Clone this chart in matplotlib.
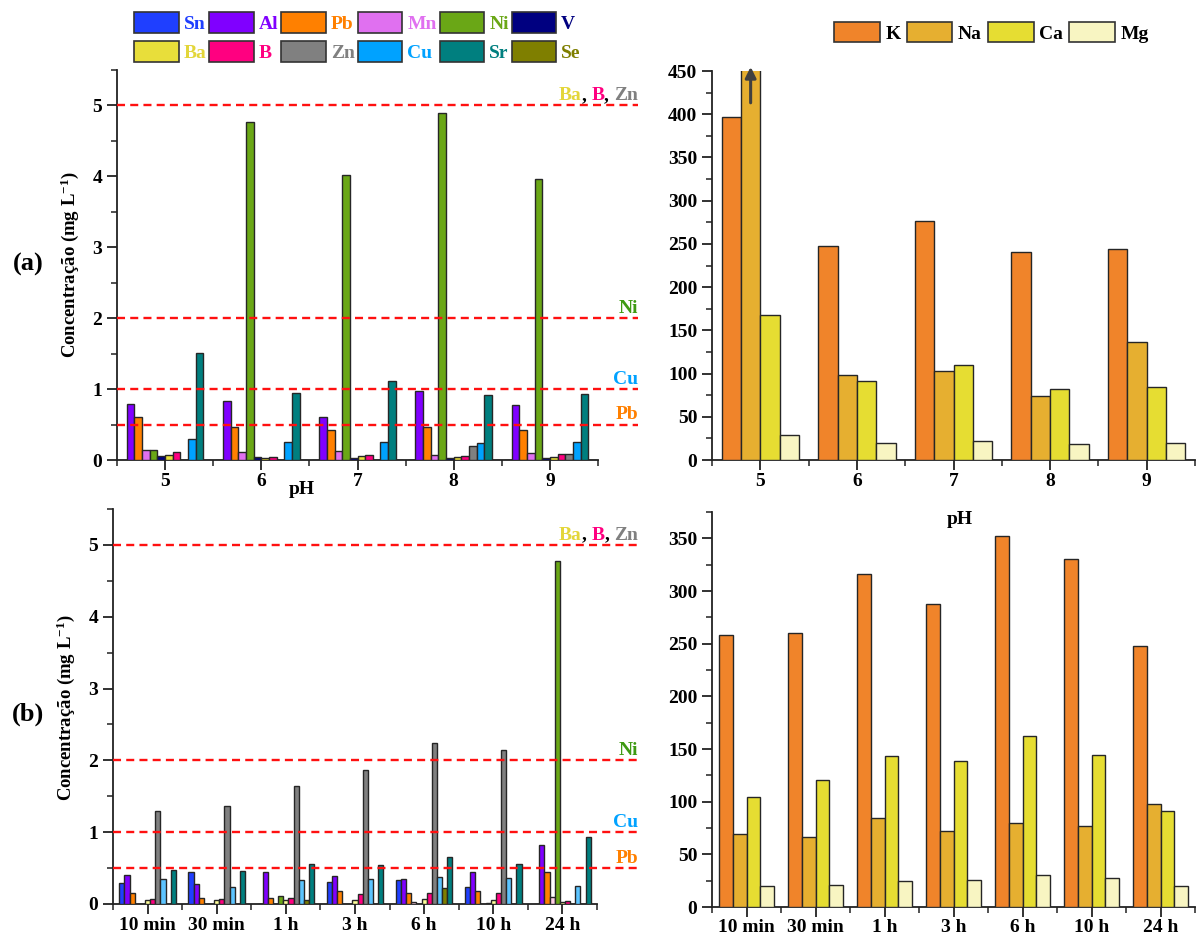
import numpy as np
import matplotlib
matplotlib.use("Agg")
import matplotlib.pyplot as plt
from matplotlib.patches import Patch
from matplotlib.ticker import MultipleLocator, FixedLocator
from matplotlib.offsetbox import TextArea, HPacker, AnnotationBbox

plt.rcParams['font.family'] = 'Liberation Serif'
plt.rcParams['font.weight'] = 'bold'
plt.rcParams['mathtext.fontset'] = 'custom'
plt.rcParams['mathtext.rm'] = 'Liberation Serif:bold'
plt.rcParams['mathtext.it'] = 'Liberation Serif:bold'
plt.rcParams['mathtext.bf'] = 'Liberation Serif:bold'

# ---------------- data ----------------
ph_labels = ['5', '6', '7', '8', '9']
time_labels = ['10 min', '30 min', '1 h', '3 h', '6 h', '10 h', '24 h']

# trace elements vs pH (mg/L)
sn_ph = [0, 0, 0, 0, 0]
al_ph = [0.79, 0.83, 0.61, 0.98, 0.77]
pb_ph = [0.60, 0.46, 0.42, 0.47, 0.42]
mn_ph = [0.14, 0.11, 0.12, 0.07, 0.10]
ni_ph = [0.14, 4.77, 4.02, 4.89, 3.96]
v_ph = [0.05, 0.04, 0.03, 0.03, 0.03]
ba_ph = [0.07, 0.03, 0.05, 0.04, 0.04]
b_ph = [0.11, 0.04, 0.07, 0.06, 0.08]
zn_ph = [0, 0, 0, 0.20, 0.08]
cu_ph = [0.29, 0.26, 0.26, 0.24, 0.25]
sr_ph = [1.51, 0.95, 1.11, 0.91, 0.93]
se_ph = [0, 0, 0, 0, 0]

# trace elements vs contact time (mg/L)
sn_t = [0.29, 0.44, 0, 0.31, 0.33, 0.24, 0]
al_t = [0.40, 0.28, 0.44, 0.39, 0.35, 0.45, 0.82]
pb_t = [0.15, 0.08, 0.08, 0.18, 0.15, 0.18, 0.45]
mn_t = [0, 0, 0, 0, 0.03, 0, 0.10]
ni_t = [0, 0, 0.11, 0, 0, 0.01, 4.77]
ba_t = [0.05, 0.05, 0.05, 0.055, 0.07, 0.055, 0.03]
b_t = [0.07, 0.07, 0.08, 0.14, 0.16, 0.15, 0.04]
zn_t = [1.30, 1.36, 1.65, 1.87, 2.24, 2.15, 0]
cu_t = [0.35, 0.24, 0.33, 0.35, 0.37, 0.36, 0.25]
se_t = [0, 0, 0.06, 0, 0.22, 0, 0]
sr_t = [0.47, 0.46, 0.56, 0.55, 0.65, 0.56, 0.93]

# major cations vs pH (mg/L); Na at pH 5 is off scale
k_ph = [397, 248, 277, 241, 244]
na_ph = [480, 98, 103, 74, 136]
ca_ph = [168, 91, 110, 82, 85]
mg_ph = [29, 19.5, 22, 19, 20]

# major cations vs contact time (mg/L)
k_t = [258, 260, 316, 288, 352, 330, 248]
na_t = [69.5, 66, 84.5, 72, 80, 77, 98]
ca_t = [104, 120.5, 143, 138.5, 162, 144, 91]
mg_t = [19.6, 21, 24.5, 26, 30, 28, 19.5]

# legal limits (mg/L)
limit_values = [0.5, 1, 2, 5]

# ---------------- colours ----------------
col = {'Sn': '#1F3FFF', 'Al': '#8000FF', 'Pb': '#FF8000', 'Mn': '#E070F0',
       'Ni': '#6AA716', 'V': '#000080', 'Ba': '#E8DE3A', 'B': '#FF0080',
       'Zn': '#808080', 'Cu': '#00A2FF', 'Sr': '#007F7F', 'Se': '#7F7F00'}
col_t = dict(col, Mn='#FFCDE6', Ba='#FFFF9A', Cu='#5CC4FF')
txt_col = dict(col, Ba='#E3D63A')
cat_col = {'K': '#F0842A', 'Na': '#E6AF30', 'Ca': '#E6DD32', 'Mg': '#F8F5C2'}
EDGE = '#262626'

series_ph = [('Sn', sn_ph), ('Al', al_ph), ('Pb', pb_ph), ('Mn', mn_ph),
             ('Ni', ni_ph), ('V', v_ph), ('Ba', ba_ph), ('B', b_ph),
             ('Zn', zn_ph), ('Cu', cu_ph), ('Sr', sr_ph), ('Se', se_ph)]
series_t = [('Sn', sn_t), ('Al', al_t), ('Pb', pb_t), ('Mn', mn_t),
            ('Ni', ni_t), ('Ba', ba_t), ('B', b_t), ('Zn', zn_t),
            ('Cu', cu_t), ('Se', se_t), ('Sr', sr_t)]
cations_ph = [('K', k_ph), ('Na', na_ph), ('Ca', ca_ph), ('Mg', mg_ph)]
cations_t = [('K', k_t), ('Na', na_t), ('Ca', ca_t), ('Mg', mg_t)]

W, H = 1200, 939
fig = plt.figure(figsize=(W / 100, H / 100), dpi=100)


def px_axes(x0, y0, x1, y1):
    return fig.add_axes([x0 / W, 1 - y1 / H, (x1 - x0) / W, (y1 - y0) / H])


ax_a = px_axes(117, 70, 598, 460)
ax_b = px_axes(113, 509, 597, 904)
ax_c = px_axes(712, 71, 1195, 460)
ax_d = px_axes(712, 512, 1195, 907)


def grouped(ax, series, colors, width):
    n = len(series[0][1])
    x = np.arange(n)
    m = len(series)
    for i, (name, vals) in enumerate(series):
        off = (i - (m - 1) / 2) * width
        ax.bar(x + off, vals, width=width, color=colors[name],
               edgecolor=EDGE, linewidth=1.0, zorder=3)
    return x


def style(ax, labels, ymax, major, minor):
    n = len(labels)
    ax.set_xlim(-0.5, n - 0.5)
    ax.set_ylim(0, ymax)
    for s in ('top', 'right'):
        ax.spines[s].set_visible(False)
    for s in ('left', 'bottom'):
        ax.spines[s].set_linewidth(1.3)
        ax.spines[s].set_color('#222222')
    ax.set_xticks(np.arange(n))
    ax.set_xticklabels(labels)
    ax.xaxis.set_minor_locator(FixedLocator(np.arange(-0.5, n, 1.0)))
    ax.yaxis.set_major_locator(MultipleLocator(major))
    ax.yaxis.set_minor_locator(MultipleLocator(minor))
    ax.tick_params(which='major', length=7, width=1.3, labelsize=14,
                   direction='out', color='#222222')
    ax.tick_params(axis='x', which='major', pad=2)
    ax.tick_params(which='minor', length=4, width=1.1, direction='out',
                   color='#222222')
    for t in ax.get_xticklabels() + ax.get_yticklabels():
        t.set_fontweight('bold')


def label_parts(ax, parts, y, x):
    boxes = [TextArea(t, textprops=dict(color=c, fontsize=14,
                                        fontweight='bold',
                                        family='Liberation Serif'))
             for t, c in parts]
    pack = HPacker(children=boxes, align='baseline', pad=0, sep=0)
    ab = AnnotationBbox(pack, (x, y), xycoords=ax.get_yaxis_transform(),
                        xybox=(0, 1), boxcoords='offset points',
                        box_alignment=(1, 0), frameon=False, pad=0,
                        annotation_clip=False, zorder=6)
    ax.add_artist(ab)


def limits(ax, extend):
    for v in limit_values:
        ax.plot([0, extend], [v, v], transform=ax.get_yaxis_transform(),
                color='#FF1010', ls=(0, (3.4, 2.2)), lw=1.7,
                clip_on=False, zorder=4)
    label_parts(ax, [('Ba', txt_col['Ba']), (', ', 'black'), ('B', txt_col['B']),
                     (', ', 'black'), ('Zn', txt_col['Zn'])], 5, extend)
    label_parts(ax, [('Ni', '#3E9A12')], 2, extend)
    label_parts(ax, [('Cu', txt_col['Cu'])], 1, extend)
    label_parts(ax, [('Pb', txt_col['Pb'])], 0.5, extend)


# (a) trace elements vs pH
grouped(ax_a, series_ph, col, 0.0796)
style(ax_a, ph_labels, 5.5, 1, 0.5)
limits(ax_a, 1.083)

# (b) trace elements vs time
grouped(ax_b, series_t, col_t, 0.0742)
style(ax_b, time_labels, 5.5, 1, 0.5)
limits(ax_b, 1.085)

# major cations vs pH
xc = grouped(ax_c, cations_ph, cat_col, 0.2)
style(ax_c, ph_labels, 450, 50, 25)
ax_c.annotate('', xy=(xc[0] - 0.1, 458), xytext=(xc[0] - 0.1, 410),
              arrowprops=dict(arrowstyle='-|>', color='#404040', lw=2.2,
                              mutation_scale=16),
              annotation_clip=False, zorder=7)

# major cations vs time
grouped(ax_d, cations_t, cat_col, 0.2)
style(ax_d, time_labels, 375, 50, 25)

# axis titles and panel letters
ylab = r'Concentração (mg L$^{-1}$)'
fig.text(70 / W, 1 - 265 / H, ylab, rotation=90, ha='center', va='center',
         fontsize=13.5, fontweight='bold')
fig.text(66 / W, 1 - 708 / H, ylab, rotation=90, ha='center', va='center',
         fontsize=13.5, fontweight='bold')
fig.text(28 / W, 1 - 264 / H, '(a)', ha='center', va='center', fontsize=19,
         fontweight='bold')
fig.text(28 / W, 1 - 714 / H, '(b)', ha='center', va='center', fontsize=19,
         fontweight='bold')
fig.text(302 / W, 1 - 489 / H, 'pH', ha='center', va='center', fontsize=14,
         fontweight='bold')
fig.text(960 / W, 1 - 519 / H, 'pH', ha='center', va='center', fontsize=14,
         fontweight='bold')

# legends
order = ['Sn', 'Ba', 'Al', 'B', 'Pb', 'Zn', 'Mn', 'Cu', 'Ni', 'Sr', 'V', 'Se']
handles = [Patch(facecolor=col[k], edgecolor='#333333', linewidth=1.2)
           for k in order]
leg = fig.legend(handles, order, ncol=6, loc='upper left',
                 bbox_to_anchor=(134 / W, 1 - 12 / H), frameon=False,
                 prop=dict(size=14, weight='bold', family='Liberation Serif'),
                 handlelength=2.3, handleheight=1.3, handletextpad=0.25,
                 columnspacing=0.15, labelspacing=0.4, borderaxespad=0,
                 borderpad=0)
for t, k in zip(leg.get_texts(), order):
    t.set_color(txt_col[k])

cat_names = ['K', 'Na', 'Ca', 'Mg']
handles2 = [Patch(facecolor=cat_col[k], edgecolor='#333333', linewidth=1.2)
            for k in cat_names]
fig.legend(handles2, cat_names, ncol=4, loc='upper left',
           bbox_to_anchor=(834 / W, 1 - 22 / H), frameon=False,
           prop=dict(size=14, weight='bold', family='Liberation Serif'),
           handlelength=2.35, handleheight=1.2, handletextpad=0.3,
           columnspacing=0.3, borderaxespad=0, borderpad=0)

fig.savefig('out.png', dpi=100)
